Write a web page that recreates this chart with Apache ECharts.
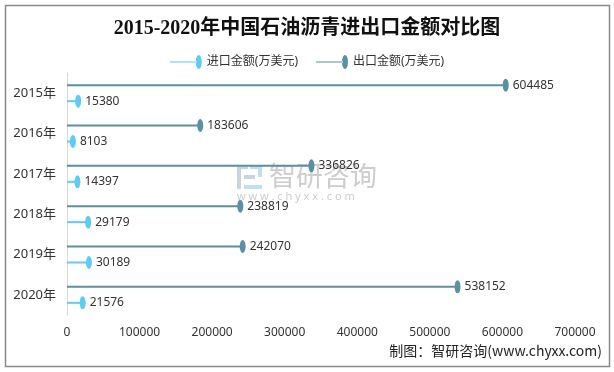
<!DOCTYPE html>
<html><head><meta charset="utf-8">
<script src="https://cdn.jsdelivr.net/npm/echarts@6/dist/echarts.min.js"></script>
<style>html,body{margin:0;padding:0;background:#fff}#c{width:614px;height:372px}</style>
</head><body><div id="c"></div>
<script>
var years = ['2015年','2016年','2017年','2018年','2019年','2020年'];
var importValues = [15380, 8103, 14397, 29179, 30189, 21576];
var exportValues = [604485, 183606, 336826, 238819, 242070, 538152];
var importName = '进口金额(万美元)';
var exportName = '出口金额(万美元)';
var xTicks = {min: 0, max: 700000, interval: 100000};

var cImp = '#5ECBF5', cExp = '#5B8FA6';
var FONT = '"Noto Sans","Noto Sans CJK SC",sans-serif';
var iconPath = 'path://M0,6.4 L27,6.4 L27,7.6 L0,7.6 Z M26,7 A3,7 0 1,0 32,7 A3,7 0 1,0 26,7 Z';

var chart = echarts.init(document.getElementById('c'));
function lineSeries(name, data, color) {
  return {
    name: name, type: 'bar', data: data, barWidth: 2, barGap: '700%',
    itemStyle: {color: color},
    label: {show: true, position: 'right', distance: 7, color: '#333', fontSize: 12, fontFamily: FONT},
    z: 2
  };
}
function markSeries(name, data, color) {
  return {
    name: name, type: 'pictorialBar', data: data, barWidth: 2, barGap: '700%',
    symbol: 'circle', symbolSize: [6, 13], symbolPosition: 'end', symbolOffset: ['50%', 0],
    itemStyle: {color: color}, z: 3
  };
}
chart.setOption({
  animation: false,
  backgroundColor: '#fff',
  title: {
    text: '2015-2020年中国石油沥青进出口金额对比图', left: 'center', top: 14,
    textStyle: {fontSize: 20, fontWeight: 'bold', color: '#111', fontFamily: '"Liberation Serif","DejaVu Serif","Noto Sans CJK SC",serif'}
  },
  legend: {
    top: 50, left: 'center', itemWidth: 32, itemHeight: 14, itemGap: 18,
    textStyle: {fontSize: 12, color: '#333', fontFamily: FONT},
    data: [{name: importName, icon: iconPath}, {name: exportName, icon: iconPath}]
  },
  grid: {left: 67, right: 39, top: 73, bottom: 57},
  xAxis: {
    type: 'value', min: xTicks.min, max: xTicks.max, interval: xTicks.interval,
    axisLine: {show: false}, axisTick: {show: false}, splitLine: {show: false},
    axisLabel: {color: '#333', fontSize: 12, margin: 12, fontFamily: FONT, formatter: function (v) { return String(v); }}
  },
  yAxis: {
    type: 'category', data: years, inverse: true,
    axisLine: {show: true, lineStyle: {color: '#d9d9d9', width: 1}}, axisTick: {show: false},
    axisLabel: {color: '#333', fontSize: 13, margin: 11, fontFamily: FONT}
  },
  graphic: [
    {type: 'rect', shape: {x: 5.5, y: 5.5, width: 604, height: 361}, style: {fill: 'none', stroke: '#8a8a8a', lineWidth: 1.5}, silent: true, z: 0},
    {type: 'group', left: 237, top: 165, z: 1, silent: true, children: [
      {type: 'rect', shape: {x: 0, y: 0, width: 11, height: 4}, style: {fill: '#c9d3e3'}},
      {type: 'rect', shape: {x: 0, y: 0, width: 4, height: 24}, style: {fill: '#c9d3e3'}},
      {type: 'rect', shape: {x: 13, y: 0, width: 12, height: 4}, style: {fill: '#c2dff2'}},
      {type: 'rect', shape: {x: 21, y: 0, width: 4, height: 12}, style: {fill: '#c2dff2'}},
      {type: 'rect', shape: {x: 7, y: 10, width: 11, height: 4}, style: {fill: '#c9d3e3'}},
      {type: 'rect', shape: {x: 7, y: 20, width: 18, height: 4}, style: {fill: '#c2dff2'}}
    ]},
    {type: 'text', left: 269, top: 162, z: 1, silent: true, style: {text: '智研咨询', fontSize: 27, fill: '#cdcdcd', fontFamily: '"Noto Sans CJK SC",sans-serif'}},
    {type: 'text', left: 237, top: 191, z: 1, silent: true, style: {text: 'w w w . c h y x x . c o m', fontSize: 11, fill: '#cdcdcd', fontFamily: FONT}},
    {type: 'text', right: 12, top: 344, z: 5, silent: true, style: {text: '制图：智研咨询(www.chyxx.com)', fontSize: 14, fill: '#222', fontFamily: '"Noto Sans CJK SC",sans-serif'}}
  ],
  series: [
    lineSeries(exportName, exportValues, cExp),
    lineSeries(importName, importValues, cImp),
    markSeries(exportName, exportValues, cExp),
    markSeries(importName, importValues, cImp)
  ]
});
</script></body></html>
